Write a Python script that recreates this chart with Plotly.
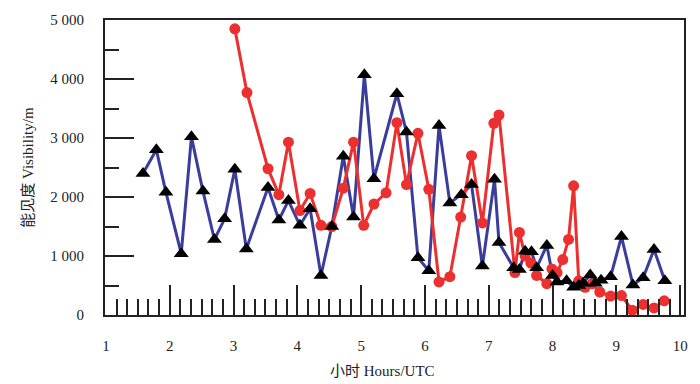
import plotly.graph_objects as go

# Blue series (triangles)
blue_hours = [1.58, 1.79, 1.94, 2.18, 2.34, 2.52, 2.70, 2.86, 3.02, 3.20,
              3.54, 3.71, 3.86, 4.04, 4.20, 4.37, 4.54, 4.72, 4.88, 5.05,
              5.20, 5.56, 5.71, 5.89, 6.06, 6.22, 6.39, 6.57, 6.73, 6.90,
              7.09, 7.16, 7.39, 7.48, 7.57, 7.67, 7.75, 7.91, 8.00, 8.07,
              8.22, 8.33, 8.41, 8.48, 8.59, 8.67, 8.76, 8.91, 9.08, 9.26,
              9.42, 9.59, 9.76]
blue_vis = [2400, 2800, 2080, 1040, 3020, 2100, 1280, 1630, 2470, 1120,
            2160, 1610, 1940, 1520, 1800, 670, 1500, 2690, 1660, 4070,
            2310, 3750, 3100, 970, 750, 3210, 1900, 2040, 2210, 830,
            2300, 1230, 800, 770, 1080, 1070, 800, 1180, 670, 560,
            580, 470, 500, 540, 680, 540, 590, 650, 1330, 510,
            630, 1110, 580]

# Red series (circles)
red_hours = [3.02, 3.21, 3.54, 3.71, 3.86, 4.04, 4.20, 4.37, 4.54, 4.72,
             4.88, 5.04, 5.20, 5.39, 5.56, 5.71, 5.89, 6.06, 6.22, 6.39,
             6.56, 6.73, 6.90, 7.08, 7.16, 7.41, 7.48, 7.57, 7.66, 7.75,
             7.91, 7.99, 8.07, 8.16, 8.25, 8.33, 8.41, 8.51, 8.62, 8.74,
             8.91, 9.08, 9.25, 9.42, 9.59, 9.75]
red_vis = [4850, 3770, 2480, 2040, 2930, 1770, 2060, 1520, 1500, 2150,
           2930, 1520, 1880, 2070, 3260, 2210, 3080, 2130, 560, 650,
           1660, 2700, 1560, 3250, 3390, 720, 1400, 1000, 880, 670,
           530, 780, 720, 940, 1280, 2190, 580, 470, 530, 390,
           320, 330, 80, 180, 120, 240]

x_ticks = [1, 2, 3, 4, 5, 6, 7, 8, 9, 10]
y_ticks = [0, 1000, 2000, 3000, 4000, 5000]
y_ticktext = ["0", "1 000", "2 000", "3 000", "4 000", "5 000"]

BLUE = "#3b3d9c"
RED = "#ec2f2f"
FONT = "Liberation Serif, Noto Sans CJK SC, serif"

fig = go.Figure()
fig.add_trace(go.Scatter(x=blue_hours, y=blue_vis, mode="lines",
                         line=dict(color=BLUE, width=3), showlegend=False,
                         hoverinfo="skip"))
fig.add_trace(go.Scatter(x=red_hours, y=red_vis, mode="lines+markers",
                         line=dict(color=RED, width=3),
                         marker=dict(symbol="circle", size=11, color=RED),
                         showlegend=False))
fig.add_trace(go.Scatter(x=blue_hours, y=blue_vis, mode="markers",
                         marker=dict(symbol="triangle-up", size=13, color="black"),
                         showlegend=False))

fig.update_layout(
    width=700, height=384,
    margin=dict(l=105, r=14, t=14, b=69),
    paper_bgcolor="white", plot_bgcolor="white",
    font=dict(family=FONT, size=15, color="#222"),
    xaxis=dict(range=[0.985, 10.06], tickvals=x_ticks,
               ticks="inside", ticklen=30, tickwidth=1.5, tickcolor="#222",
               minor=dict(dtick=1/6, tick0=1, ticks="inside", ticklen=16,
                          tickwidth=1.5, tickcolor="#222"),
               showline=True, linecolor="#222", linewidth=1.8, mirror=True,
               showgrid=False, zeroline=False, ticklabelstandoff=16),
    yaxis=dict(range=[0, 5000], tickvals=y_ticks, ticktext=y_ticktext,
               ticks="inside", ticklen=29, tickwidth=1.5, tickcolor="#222",
               minor=dict(dtick=500, tick0=0, ticks="inside", ticklen=14,
                          tickwidth=1.5, tickcolor="#222"),
               showline=True, linecolor="#222", linewidth=1.8, mirror=True,
               showgrid=False, zeroline=False, ticklabelstandoff=16),
    annotations=[
        dict(text="小时 Hours/UTC", xref="paper", yref="paper",
             x=(383 - 105) / 581, y=-(372 - 315) / 301,
             xanchor="center", yanchor="middle", showarrow=False,
             font=dict(family=FONT, size=15, color="#222")),
        dict(text="能见度 Visibility/m", xref="paper", yref="paper",
             x=-(105 - 27) / 581, y=0.5, textangle=-90,
             xanchor="center", yanchor="middle", showarrow=False,
             font=dict(family=FONT, size=15, color="#222")),
    ],
)

fig.write_html("out.html",
               config={"displayModeBar": False},
               post_script="document.body.style.margin='0';"
                           "document.body.style.overflow='hidden';")
